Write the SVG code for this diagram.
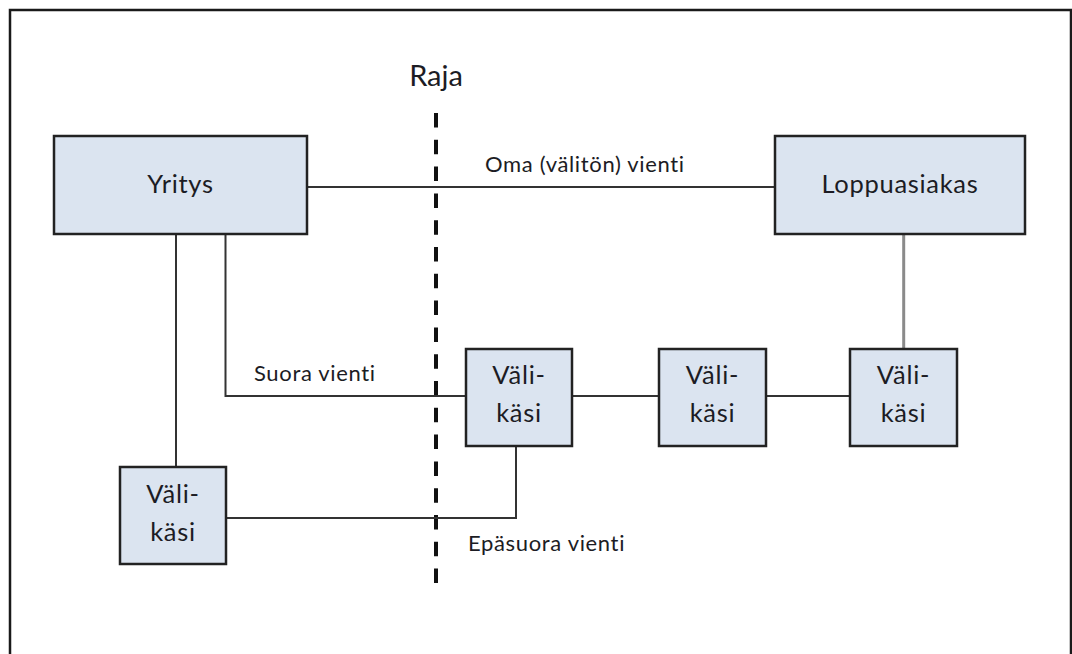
<svg xmlns="http://www.w3.org/2000/svg" width="1072" height="654" viewBox="0 0 1072 654">
  <style>
    .box { fill: #dbe4f0; stroke: #222; stroke-width: 2.5; }
    .conn { fill: none; stroke: #333; stroke-width: 2; }
    .grey { stroke: #8a8a8a; stroke-width: 3; }
    .t { font-family: Lato, "Open Sans", sans-serif; fill: #1c1c24; font-variant-ligatures: none; }
    .bt { font-size: 25.5px; letter-spacing: 0.7px; text-anchor: middle; }
    .lt { font-size: 22px; letter-spacing: 0.65px; }
  </style>
  <rect width="1072" height="654" fill="#fff"/>
  <path d="M10,660 V10 H1071 V660" fill="none" stroke="#1a1a1a" stroke-width="2.5"/>
  <g id="border">
    <text class="t" x="436" y="86" font-size="29" text-anchor="middle">Raja</text>
    <line x1="436" y1="113" x2="436" y2="588" stroke="#111" stroke-width="4" stroke-dasharray="14.5 12.3"/>
  </g>
  <g id="connectors">
    <line class="conn" x1="307" y1="187" x2="775" y2="187"/>
    <line class="conn" x1="176" y1="234" x2="176" y2="467"/>
    <polyline class="conn" points="225.5,234 225.5,396 466,396"/>
    <line class="conn" x1="572" y1="396" x2="659" y2="396"/>
    <line class="conn" x1="766" y1="396" x2="850" y2="396"/>
    <line class="conn grey" x1="903.7" y1="234" x2="903.7" y2="349"/>
    <polyline class="conn" points="226,518 516,518 516,446"/>
    <text class="t lt" x="485" y="172">Oma (välitön) vienti</text>
    <text class="t lt" x="254" y="381">Suora vienti</text>
    <text class="t lt" x="468" y="551">Epäsuora vienti</text>
  </g>
  <g id="yritys">
    <rect class="box" x="54" y="136" width="253" height="98"/>
    <text class="t bt" x="180.5" y="193">Yritys</text>
  </g>
  <g id="loppuasiakas">
    <rect class="box" x="775" y="136" width="250" height="98"/>
    <text class="t bt" x="900" y="193">Loppuasiakas</text>
  </g>
  <g id="valikasi1">
    <rect class="box" x="120" y="467" width="106" height="97"/>
    <text class="t bt" x="173" y="503">Väli-</text>
    <text class="t bt" x="173" y="541">käsi</text>
  </g>
  <g id="valikasi2">
    <rect class="box" x="466" y="349" width="106" height="97"/>
    <text class="t bt" x="519" y="384">Väli-</text>
    <text class="t bt" x="519" y="422">käsi</text>
  </g>
  <g id="valikasi3">
    <rect class="box" x="659" y="349" width="107" height="97"/>
    <text class="t bt" x="712.5" y="384">Väli-</text>
    <text class="t bt" x="712.5" y="422">käsi</text>
  </g>
  <g id="valikasi4">
    <rect class="box" x="850" y="349" width="107" height="97"/>
    <text class="t bt" x="903.5" y="384">Väli-</text>
    <text class="t bt" x="903.5" y="422">käsi</text>
  </g>
</svg>
